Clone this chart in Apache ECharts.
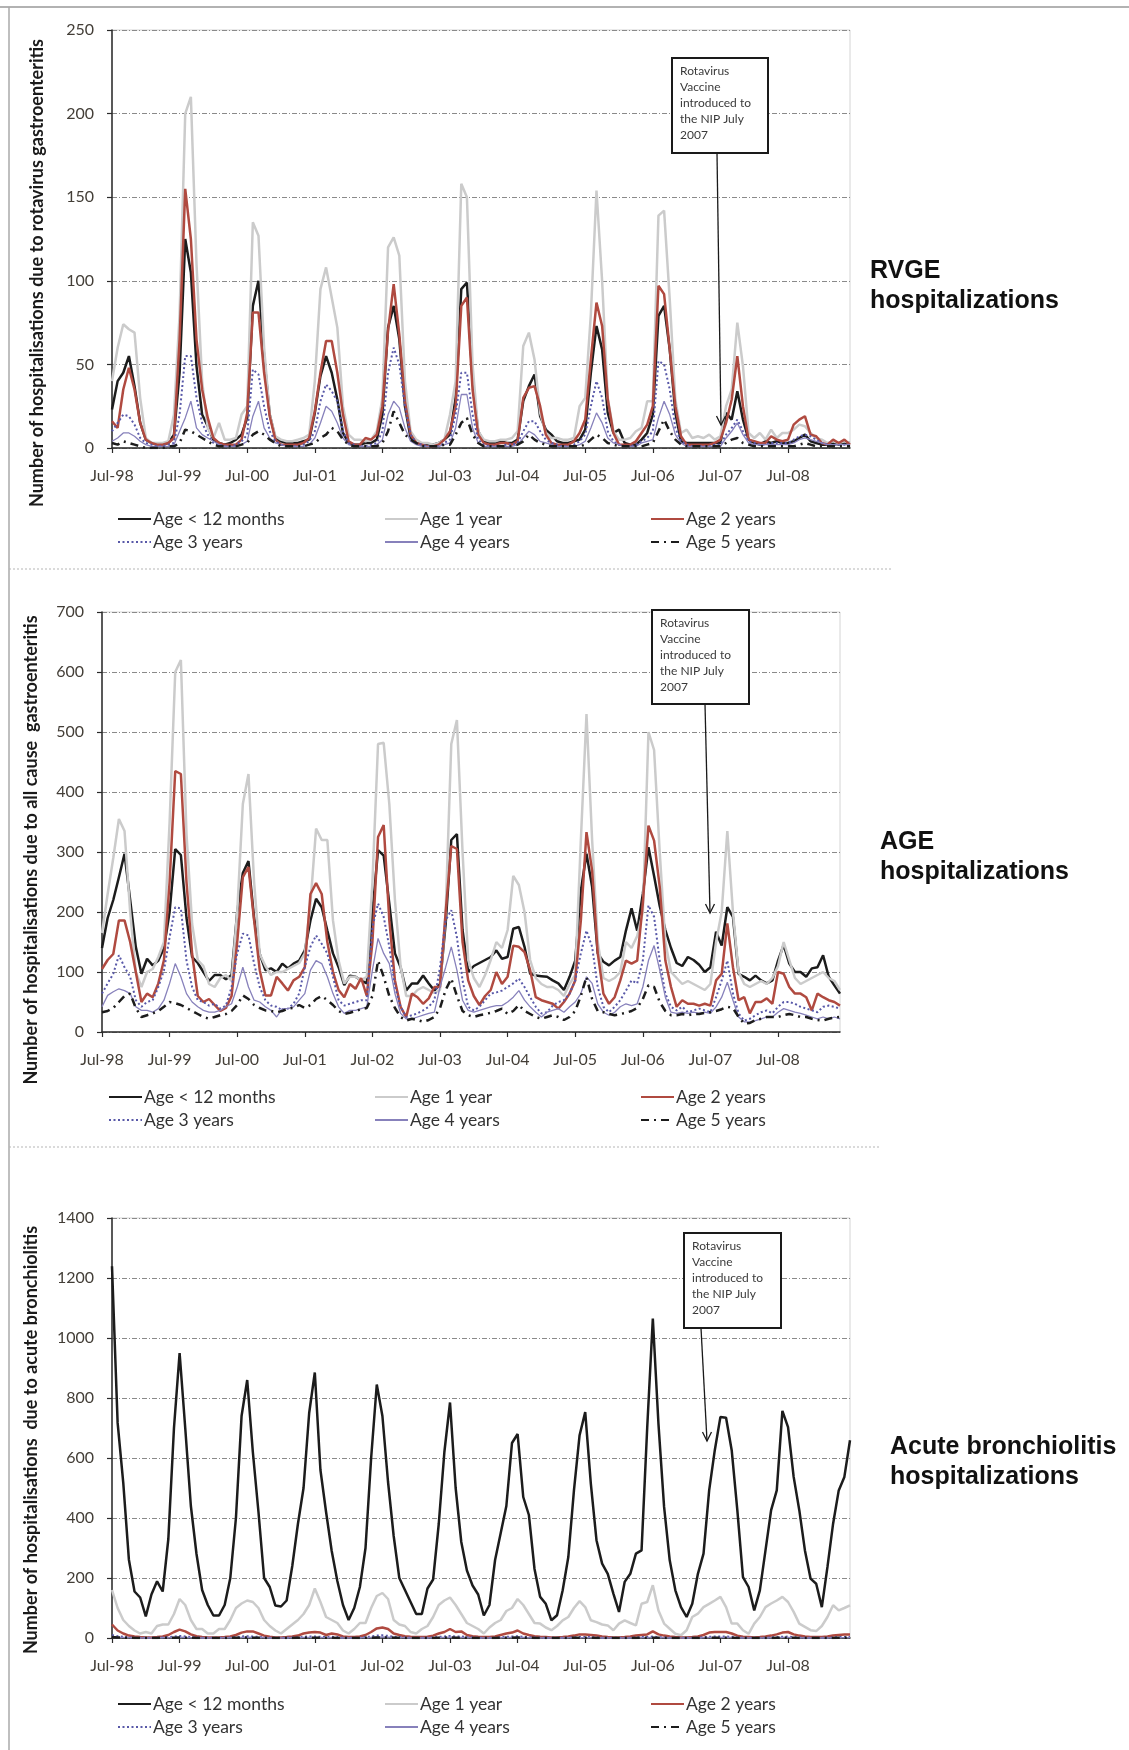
<!DOCTYPE html>
<html><head><meta charset="utf-8">
<script src="https://cdn.jsdelivr.net/npm/echarts@6/dist/echarts.min.js"></script>
<style>html,body{margin:0;padding:0;background:#fff}#c{width:1129px;height:1750px}</style>
</head><body><div id="c"></div>
<script>
// ---------- categories / labels ----------
const monthNames = ['Jul','Aug','Sep','Oct','Nov','Dec','Jan','Feb','Mar','Apr','May','Jun'];
const seasonStartYears = [1998,1999,2000,2001,2002,2003,2004,2005,2006,2007,2008];
const categories = [];
seasonStartYears.forEach(y => monthNames.forEach((m, k) => {
  const yr = y + (k >= 6 ? 1 : 0);
  categories.push(m + '-' + String(yr % 100).padStart(2, '0'));
}));
const seriesNames = ['Age < 12 months','Age 1 year','Age 2 years','Age 3 years','Age 4 years','Age 5 years'];
const yTitles = ['Number of hospitalisations due to rotavirus gastroenteritis',
  'Number of hospitalisations due to all cause  gastroenteritis',
  'Number of hospitalisations  due to acute bronchiolitis'];
const panelLabels = [['RVGE','hospitalizations'],['AGE','hospitalizations'],['Acute bronchiolitis','hospitalizations']];
const noteText = 'Rotavirus\nVaccine\nintroduced to\nthe NIP July\n2007';
const yMax = [250, 700, 1400];
const yStep = [50, 100, 200];

// ---------- RVGE (panel 1) ----------
const rvgeLt12 = [23,40,45,55,37,15,5,3,2,2,3,8, 45,125,105,49,20,13,5,3,2,3,5,8, 18,85,100,55,20,6,4,3,3,3,4,5, 21,43,55,45,29,9,3,2,2,3,3,5, 20,72,85,65,25,6,3,2,2,2,3,5, 8,30,95,99,40,10,4,3,3,4,3,3, 5,28,37,44,19,11,8,4,3,3,4,5, 11,45,73,59,21,9,11,3,2,2,5,9, 20,79,85,59,21,4,3,3,3,3,3,3, 3,21,17,34,17,5,3,2,4,3,4,3, 3,4,6,8,4,3,2,2,3,2,3,3];
const rvge1y = [40,60,74,71,69,30,6,3,3,3,4,20, 80,200,210,110,40,12,6,15,5,5,6,20, 25,135,127,60,20,7,5,4,4,5,6,8, 40,95,108,90,72,25,8,5,5,4,5,10, 30,120,126,115,40,10,5,3,3,2,3,5, 20,40,158,150,50,10,5,4,4,5,5,6, 10,61,69,53,21,9,6,6,5,5,6,25, 30,80,154,100,30,10,5,5,6,10,12,28, 28,139,142,89,29,9,11,6,7,6,8,5, 7,25,35,75,49,9,6,9,5,11,6,9, 9,11,14,13,9,6,5,3,4,3,4,3];
const rvge2y = [16,12,35,48,35,15,5,3,2,2,3,6, 65,155,125,65,35,18,6,3,2,2,2,5, 21,81,81,45,19,5,2,2,2,2,3,6, 22,45,64,64,45,20,4,2,2,6,5,8, 25,70,98,68,28,8,3,2,1,1,2,5, 10,25,85,90,35,8,3,2,2,3,3,2, 4,30,36,37,25,8,3,2,2,2,4,9, 17,53,87,73,29,9,2,2,2,4,9,14, 25,97,92,59,25,7,2,2,2,2,2,3, 5,15,29,55,25,5,4,3,3,7,5,4, 5,14,17,19,8,7,3,2,5,3,5,2];
const rvge3y = [10,15,20,19,14,6,3,2,1,1,2,3, 20,55,55,30,15,8,3,2,1,1,2,4, 8,47,44,25,10,4,2,1,1,1,2,4, 10,28,38,34,28,10,3,2,1,1,2,3, 10,45,60,50,25,8,3,2,1,1,1,3, 5,20,45,45,20,5,2,1,1,1,2,2, 3,10,16,16,10,5,3,2,1,1,2,4, 8,25,40,30,10,4,2,1,1,2,4,6, 10,52,50,35,12,4,2,1,1,1,1,2, 2,8,12,17,10,4,3,2,2,3,3,3, 3,5,7,8,7,5,3,2,2,2,2,2];
const rvge4y = [4,6,9,9,7,4,2,1,1,1,1,2, 10,18,28,12,8,6,4,2,1,1,1,2, 4,19,28,12,6,3,2,1,1,1,1,2, 6,15,25,22,15,6,2,1,1,1,1,2, 5,20,28,24,12,4,2,1,1,1,1,2, 3,12,32,32,12,3,1,1,1,1,1,1, 2,6,10,8,4,3,2,1,1,1,1,2, 4,12,21,15,6,3,2,1,1,1,3,4, 5,18,28,20,8,3,1,1,1,1,1,1, 1,6,10,15,8,3,2,2,2,2,2,2, 2,3,5,6,5,4,3,2,2,2,2,2];
const rvge5y = [3,2,4,3,2,1,0,0,0,0,1,1, 3,11,10,8,6,4,2,1,1,1,1,2, 3,8,10,8,5,3,1,1,1,1,1,2, 3,6,8,12,10,5,2,1,1,1,1,1, 3,10,22,15,8,5,3,1,1,1,1,2, 2,8,15,18,8,3,1,1,1,1,1,1, 2,4,8,5,3,2,1,1,1,1,1,1, 2,5,8,6,3,2,1,1,1,1,1,2, 3,10,17,10,5,2,1,1,1,1,1,1, 1,3,5,6,3,2,1,1,1,1,1,1, 1,1,2,3,2,1,1,1,1,1,1,1];

// ---------- AGE (panel 2) ----------
const ageLt12 = [140,190,220,258,297,220,142,97,122,111,119,140, 200,305,295,190,125,115,100,85,95,95,88,95, 200,265,285,190,130,103,106,100,114,106,114,119, 136,186,222,208,169,131,108,78,94,92,86,81, 200,303,294,214,131,108,69,81,81,94,81,69, 80,180,320,330,170,100,110,115,120,125,136,122, 125,172,175,142,97,94,93,92,86,81,70,92, 119,236,297,242,131,117,111,119,125,169,206,169, 230,308,260,210,170,140,115,110,125,120,112,100, 108,167,144,208,192,97,92,86,94,86,81,86, 119,145,114,100,100,92,106,108,128,92,78,64];
const age1y = [165,230,290,355,335,200,100,75,100,105,125,150, 350,600,620,330,180,120,110,80,75,90,95,85, 200,380,430,250,130,110,95,100,100,105,110,115, 131,214,339,320,320,186,119,81,92,92,86,92, 250,480,482,380,220,110,60,60,70,75,70,65, 70,200,480,520,300,120,90,75,95,120,150,140, 170,260,245,200,120,90,80,75,75,70,60,80, 95,320,530,320,150,90,85,90,100,150,140,160, 200,500,470,300,150,100,90,80,85,80,75,70, 80,150,200,335,200,100,80,75,80,85,80,90, 110,150,120,90,80,85,90,95,100,90,85,70];
const age2y = [105,120,130,186,186,150,100,50,64,58,81,120, 250,435,430,250,130,60,50,55,45,35,40,60, 150,258,275,186,103,61,61,92,81,69,86,92, 108,230,248,230,150,100,70,58,80,72,90,60, 150,325,345,186,86,42,25,64,58,47,56,75, 75,200,310,305,150,86,60,45,60,70,100,80, 92,144,142,133,103,58,53,50,47,39,50,64, 86,186,333,269,131,64,47,58,86,119,114,119, 214,344,319,242,119,75,42,53,47,47,44,47, 44,86,97,181,108,53,58,31,50,50,56,47, 100,97,75,64,64,58,36,64,58,53,50,44];
const age3y = [64,81,97,128,108,92,53,42,50,53,75,103, 158,208,206,119,75,53,50,44,47,39,44,75, 131,164,161,114,75,53,44,42,36,39,47,64, 108,142,161,147,131,92,53,44,47,50,53,53, 175,214,192,142,75,42,25,28,31,36,42,53, 108,186,203,158,86,42,36,42,53,64,66,69, 75,81,89,75,58,42,31,33,44,50,53,64, 86,131,169,142,75,42,33,42,53,69,86,81, 119,211,192,119,64,42,36,42,33,36,39,36, 33,58,86,119,64,31,19,22,28,33,36,31, 42,50,50,47,42,39,36,33,42,44,42,39];
const age4y = [42,61,67,72,69,64,42,36,36,33,39,53, 81,114,92,64,50,42,36,33,33,36,42,47, 75,108,75,53,50,42,36,25,39,39,42,53, 64,103,119,114,92,64,42,31,36,36,39,42, 103,156,131,114,64,31,22,22,25,28,31,33, 75,108,142,103,53,36,33,36,39,42,44,44, 50,58,69,53,42,33,25,33,36,39,33,42, 50,64,92,81,47,33,28,33,42,47,44,47, 75,119,144,103,58,33,31,33,31,33,31,33, 31,42,58,83,53,25,17,17,19,22,25,25, 33,39,36,33,31,28,25,22,25,22,25,22];
const age5y = [33,35,40,50,60,64,40,25,28,31,35,42, 50,48,45,40,35,30,25,22,25,28,30,35, 45,61,55,45,40,36,35,33,35,39,40,45, 40,45,55,60,53,45,35,30,32,35,38,40, 60,119,92,60,40,25,19,22,20,17,20,25, 40,70,89,60,35,28,25,28,30,32,35,39, 30,35,45,35,30,25,22,25,28,25,20,25, 35,60,92,55,35,33,30,28,30,32,35,40, 55,78,75,50,35,28,28,30,28,30,30,32, 33,35,38,42,40,25,14,15,20,22,25,25, 25,28,30,28,25,25,22,20,19,22,24,25];

// ---------- Acute bronchiolitis (panel 3) ----------
const bronLt12 = [1239,717,517,261,155,135,72,145,189,155,330,700, 950,700,440,280,160,110,75,75,110,200,400,740, 860,620,420,200,170,108,105,125,240,380,500,750, 885,560,420,290,190,110,60,100,170,300,600,845, 740,520,340,200,160,120,80,80,165,195,380,620, 785,500,320,225,175,145,75,110,260,350,440,650, 680,470,410,230,137,114,59,76,159,270,492,676, 753,514,326,248,214,148,87,187,214,281,292,700, 1065,714,437,259,159,103,70,114,214,281,492,626, 737,734,626,426,203,170,92,159,292,426,492,757, 703,537,426,292,198,181,103,237,381,492,537,659];
const bron1y = [160,100,60,40,25,15,20,15,40,45,45,80, 130,110,60,30,30,15,15,30,30,60,100,115, 125,120,100,60,40,25,15,30,45,60,80,110, 165,120,70,60,50,25,15,30,50,50,100,140, 150,130,60,45,40,20,15,30,40,70,110,125, 135,110,80,50,40,30,15,35,50,60,90,100, 130,110,80,50,48,35,26,40,59,70,100,123, 103,59,53,45,42,26,48,59,50,42,114,120, 176,92,48,31,14,9,26,70,81,103,114,125, 137,103,48,48,26,14,48,70,103,115,125,137, 120,87,48,37,26,23,40,70,109,92,100,109];
const bron2y = [45,25,15,8,5,3,2,2,3,5,10,20, 28,22,12,6,3,2,2,2,3,5,10,18, 22,22,15,8,4,2,2,3,5,8,15,18, 20,18,10,15,12,5,3,3,5,10,20,32, 35,30,15,10,6,4,3,3,4,8,15,20, 30,20,22,10,6,4,3,3,5,10,15,18, 25,15,10,6,4,3,2,2,3,5,8,12, 12,10,8,5,3,2,2,3,5,8,10,12, 22,12,8,5,3,2,2,3,5,10,18,20, 20,20,15,8,4,3,2,3,5,8,12,18, 20,12,8,5,3,3,3,5,8,10,12,12];
const bron3y = [10,6,4,2,1,1,1,1,1,2,3,5, 7,5,3,2,1,1,1,1,1,2,3,5, 6,5,4,2,1,1,1,1,2,2,4,5, 5,4,3,4,3,1,1,1,1,3,5,8, 9,7,4,3,2,1,1,1,1,2,4,5, 7,5,5,3,2,1,1,1,1,3,4,5, 6,4,3,2,1,1,1,1,1,1,2,3, 3,3,2,1,1,1,1,1,1,2,3,3, 5,3,2,1,1,1,1,1,1,3,4,5, 5,5,4,2,1,1,1,1,1,2,3,4, 5,3,2,1,1,1,1,1,2,3,3,3];
const bron4y = [5,3,2,1,1,0,0,0,1,1,1,2, 3,2,1,1,0,0,0,0,1,1,1,2, 3,2,2,1,0,0,0,0,1,1,2,2, 2,2,1,2,1,0,0,0,1,1,2,3, 4,3,2,1,1,0,0,0,0,1,2,2, 3,2,2,1,1,0,0,0,0,1,2,2, 3,2,1,1,0,0,0,0,0,1,1,1, 1,1,1,0,0,0,0,0,0,1,1,1, 2,1,1,0,0,0,0,0,0,1,2,2, 2,2,2,1,0,0,0,0,0,1,1,2, 2,1,1,0,0,0,0,0,1,1,1,1];
const bron5y = [3,2,1,1,0,0,0,0,0,1,1,1, 2,1,1,0,0,0,0,0,0,1,1,1, 2,1,1,0,0,0,0,0,0,1,1,1, 1,1,1,1,0,0,0,0,0,1,1,2, 2,2,1,1,0,0,0,0,0,0,1,1, 2,1,1,1,0,0,0,0,0,1,1,1, 2,1,1,0,0,0,0,0,0,0,1,1, 1,1,0,0,0,0,0,0,0,0,1,1, 1,1,0,0,0,0,0,0,0,1,1,1, 1,1,1,0,0,0,0,0,0,0,1,1, 1,1,0,0,0,0,0,0,0,1,1,1];

const panels = [
  [rvgeLt12, rvge1y, rvge2y, rvge3y, rvge4y, rvge5y],
  [ageLt12, age1y, age2y, age3y, age4y, age5y],
  [bronLt12, bron1y, bron2y, bron3y, bron4y, bron5y]
];

// ---------- styling ----------
const lineStyles = [
  {color:'#1c1c1c', width:2.5, type:'solid'},
  {color:'#cbcbcb', width:2.5, type:'solid'},
  {color:'#b04a40', width:2.5, type:'solid'},
  {color:'#5858a8', width:2, type:[2,2.5]},
  {color:'#8781bb', width:1.3, type:'solid'},
  {color:'#1c1c1c', width:2.5, type:[8,5,2,5]}
];
const drawOrder = [1,0,2,3,4,5];
const grids = [
  {left:112, top:30, width:738, height:418},
  {left:102, top:612, width:738, height:420},
  {left:112, top:1218, width:738, height:420}
];
const legendTops = [505, 1083, 1690];
const legendCols = [[112,379,645],[103,369,635],[112,379,645]];
const yTitlePos = [[37,273],[31,850],[31,1440]];
const labelPos = [[870,271],[880,842],[890,1447]];
const notes = [
  {box:[672,58,96,95], arrow:[717,153,721,425]},
  {box:[652,610,97,94], arrow:[705,704,710,913]},
  {box:[684,1233,97,95], arrow:[701,1328,707,1441]}
];

const FONT = 'Lato, "Open Sans", sans-serif';
const TICK_COLOR = '#433e37';
const option = {
  animation:false,
  textStyle:{fontFamily:FONT},
  grid: grids.map(g => Object.assign({show:true, borderColor:'#d4d4d4', borderWidth:1, backgroundColor:'transparent'}, g)),
  xAxis: grids.map((g,i) => ({
    type:'category', gridIndex:i, data:categories, boundaryGap:false,
    axisLine:{show:true, lineStyle:{color:'#2a2a2a', width:1.5}},
    axisTick:{show:true, interval:11, length:5, lineStyle:{color:'#2a2a2a', width:1.2}},
    axisLabel:{interval:11, margin:20, fontFamily:FONT, fontSize:16, color:TICK_COLOR},
    splitLine:{show:false}
  })),
  yAxis: grids.map((g,i) => ({
    type:'value', gridIndex:i, min:0, max:yMax[i], interval:yStep[i],
    axisLine:{show:true, lineStyle:{color:'#2a2a2a', width:1.5}},
    axisTick:{show:true, length:5, lineStyle:{color:'#2a2a2a', width:1.2}},
    axisLabel:{margin:18, fontFamily:FONT, fontSize:16, color:TICK_COLOR, formatter: v => String(v)},
    splitLine:{show:true, lineStyle:{color:'#8a8a8a', width:1, type:[5,2,1,2]}}
  })),
  legend: [],
  series: [],
  graphic: []
};

panels.forEach((arrs, p) => {
  drawOrder.forEach(k => {
    option.series.push({
      type:'line', name:seriesNames[k], xAxisIndex:p, yAxisIndex:p,
      data:arrs[k], symbol:'none', showSymbol:false, silent:true,
      lineStyle:Object.assign({}, lineStyles[k]), itemStyle:{color:lineStyles[k].color},
      z: 2 + k*0.1
    });
  });
  // legend: three columns of two rows
  [[0,3],[1,4],[2,5]].forEach((pair, c) => {
    option.legend.push({
      orient:'vertical', left:legendCols[p][c], top:legendTops[p], itemGap:5,
      itemWidth:33, itemHeight:14, selectedMode:false,
      itemStyle:{opacity:0},
      data:pair.map(k => seriesNames[k]),
      textStyle:{fontFamily:FONT, fontSize:17.5, color:'#333', lineHeight:18, padding:[0,0,0,-3]}
    });
  });
  // y-axis title
  option.graphic.push({type:'text', x:yTitlePos[p][0], y:yTitlePos[p][1], rotation:Math.PI/2, z:50,
    style:{text:yTitles[p], fontFamily:FONT, fontWeight:'bold', fontSize:18, fill:'#1a1a1a', align:'center', verticalAlign:'middle', textAlign:'center', textVerticalAlign:'middle'}});
  // right-side label
  panelLabels[p].forEach((t, j) => {
    option.graphic.push({type:'text', x:labelPos[p][0], y:labelPos[p][1] + j*30, z:50,
      style:{text:t, fontFamily:'"Liberation Sans", Arial, sans-serif', fontWeight:'bold', fontSize:25, fill:'#111', align:'left', verticalAlign:'middle', textAlign:'left', textVerticalAlign:'middle'}});
  });
  // annotation box + arrow
  const n = notes[p];
  option.graphic.push({type:'rect', z:60, shape:{x:n.box[0], y:n.box[1], width:n.box[2], height:n.box[3]},
    style:{fill:'#fff', stroke:'#1a1a1a', lineWidth:2}});
  option.graphic.push({type:'text', z:61, x:n.box[0]+8, y:n.box[1]+5,
    style:{text:noteText, fontFamily:FONT, fontSize:12, lineHeight:16, fill:'#3a3a3a', align:'left', verticalAlign:'top', textAlign:'left', textVerticalAlign:'top'}});
  const a = n.arrow;
  option.graphic.push({type:'line', z:61, shape:{x1:a[0], y1:a[1], x2:a[2], y2:a[3]}, style:{stroke:'#1a1a1a', lineWidth:1.3}});
  option.graphic.push({type:'polyline', z:61, shape:{points:[[a[2]-4.5, a[3]-9],[a[2], a[3]],[a[2]+4.5, a[3]-9]]}, style:{stroke:'#1a1a1a', lineWidth:1.3, fill:null}});
});

// page frame and separators
option.graphic.push({type:'line', z:40, shape:{x1:0, y1:7, x2:1129, y2:7}, style:{stroke:'#999', lineWidth:1.5}});
option.graphic.push({type:'line', z:40, shape:{x1:9, y1:7, x2:9, y2:1750}, style:{stroke:'#aaa', lineWidth:1.5}});
option.graphic.push({type:'line', z:40, shape:{x1:9, y1:569, x2:892, y2:569}, style:{stroke:'#b5b5b5', lineWidth:1, lineDash:[2,2]}});
option.graphic.push({type:'line', z:40, shape:{x1:9, y1:1147, x2:881, y2:1147}, style:{stroke:'#b5b5b5', lineWidth:1, lineDash:[2,2]}});

const chart = echarts.init(document.getElementById('c'), null, {renderer:'canvas'});
chart.setOption(option);
</script>
</body></html>
